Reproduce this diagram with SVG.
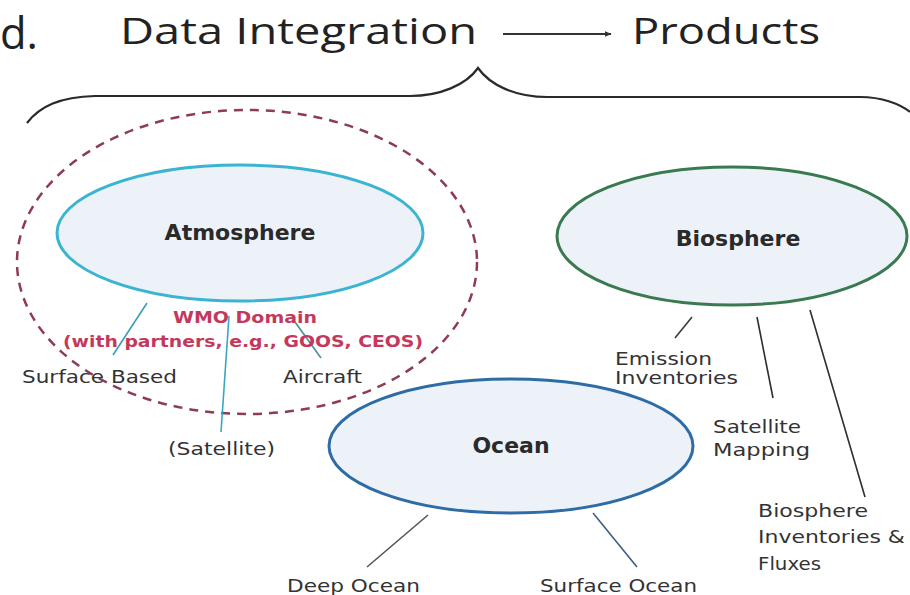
<svg xmlns="http://www.w3.org/2000/svg" width="910" height="595" viewBox="0 0 910 595">
  <style>
    .title { font-family: "Open Sans", "Liberation Sans", sans-serif; fill: #222; }
    .node { fill: #edf2f8; stroke-width: 3; }
    .nodetext { font-family: "DejaVu Sans", sans-serif; font-weight: bold; font-size: 22px; fill: #2a2a2a; text-anchor: middle; }
    .lbl { font-family: "DejaVu Sans", sans-serif; font-size: 17px; fill: #333; }
    .wmo { font-family: "DejaVu Sans", sans-serif; font-weight: bold; font-size: 15px; fill: #c4385c; }
    .conn { fill: none; stroke-width: 1.6; }
  </style>
  <defs>
    <marker id="arr" viewBox="0 0 10 10" refX="9" refY="5" markerWidth="7" markerHeight="7" orient="auto" markerUnits="userSpaceOnUse">
      <path d="M0,1 L10,5 L0,9 Z" fill="#333"/>
    </marker>
  </defs>
  <rect width="910" height="595" fill="#ffffff"/>

  <g id="title">
    <text class="title" x="0" y="49" font-size="44" textLength="38" lengthAdjust="spacingAndGlyphs">d.</text>
    <text class="title" x="120" y="44" font-size="36" textLength="357" lengthAdjust="spacingAndGlyphs">Data Integration</text>
    <line x1="503" y1="34" x2="611" y2="34" stroke="#333" stroke-width="2" marker-end="url(#arr)"/>
    <text class="title" x="632" y="44" font-size="36" textLength="188" lengthAdjust="spacingAndGlyphs">Products</text>
  </g>

  <g id="brace">
    <path d="M 27 123 C 40 106, 60 97, 95 96 L 410 96 C 440 96, 466 85, 478 68 C 490 85, 515 97, 547 97 L 860 97 C 882 97, 900 104, 910 112" fill="none" stroke="#2a2a2a" stroke-width="2.2"/>
  </g>

  <g id="wmo-domain">
    <ellipse cx="247" cy="262" rx="230" ry="152" fill="none" stroke="#8e3c54" stroke-width="2.5" stroke-dasharray="9 7"/>
  </g>

  <g id="connectors">
    <line class="conn" x1="147" y1="303" x2="113" y2="355" stroke="#3d9db3"/>
    <line class="conn" x1="229" y1="316" x2="221" y2="432" stroke="#3aa7c2" stroke-width="2"/>
    <line class="conn" x1="295" y1="322" x2="321" y2="358" stroke="#4d8e9c"/>
    <line class="conn" x1="692" y1="317" x2="675" y2="338" stroke="#3a3a3a"/>
    <line class="conn" x1="757" y1="317" x2="773" y2="398" stroke="#2e2e2e" stroke-width="2"/>
    <line class="conn" x1="810" y1="310" x2="865" y2="497" stroke="#2e2e2e"/>
    <line class="conn" x1="428" y1="515" x2="367" y2="567" stroke="#555"/>
    <line class="conn" x1="593" y1="513" x2="637" y2="567" stroke="#3b5f86"/>
  </g>

  <g id="atmosphere">
    <ellipse class="node" cx="240" cy="233" rx="183" ry="68" stroke="#3ab4d2"/>
    <text class="nodetext" x="240" y="240">Atmosphere</text>
  </g>

  <g id="biosphere">
    <ellipse class="node" cx="732" cy="236" rx="175" ry="69" stroke="#3a7a50"/>
    <text class="nodetext" x="738" y="246">Biosphere</text>
  </g>

  <g id="ocean">
    <ellipse class="node" cx="511" cy="446" rx="182" ry="67" stroke="#2e6ca6"/>
    <text class="nodetext" x="511" y="453">Ocean</text>
  </g>

  <g id="wmo-label">
    <text class="wmo" x="173" y="323" textLength="144" lengthAdjust="spacingAndGlyphs">WMO Domain</text>
    <text class="wmo" x="63" y="347" textLength="360" lengthAdjust="spacingAndGlyphs">(with partners, e.g., GOOS, CEOS)</text>
  </g>

  <g id="surface-based"><text class="lbl" x="22" y="383" textLength="155" lengthAdjust="spacingAndGlyphs">Surface Based</text></g>
  <g id="aircraft"><text class="lbl" x="283" y="383" textLength="79" lengthAdjust="spacingAndGlyphs">Aircraft</text></g>
  <g id="satellite"><text class="lbl" x="168" y="455" textLength="107" lengthAdjust="spacingAndGlyphs">(Satellite)</text></g>

  <g id="emission-inventories">
    <text class="lbl" x="615" y="365" textLength="97" lengthAdjust="spacingAndGlyphs">Emission</text>
    <text class="lbl" x="615" y="384" textLength="123" lengthAdjust="spacingAndGlyphs">Inventories</text>
  </g>
  <g id="satellite-mapping">
    <text class="lbl" x="713" y="433" textLength="88" lengthAdjust="spacingAndGlyphs">Satellite</text>
    <text class="lbl" x="713" y="456" textLength="97" lengthAdjust="spacingAndGlyphs">Mapping</text>
  </g>
  <g id="biosphere-inventories">
    <text class="lbl" x="758" y="517" textLength="110" lengthAdjust="spacingAndGlyphs">Biosphere</text>
    <text class="lbl" x="758" y="543" textLength="147" lengthAdjust="spacingAndGlyphs">Inventories &amp;</text>
    <text class="lbl" x="758" y="570" textLength="63" lengthAdjust="spacingAndGlyphs">Fluxes</text>
  </g>
  <g id="deep-ocean"><text class="lbl" x="287" y="592" textLength="133" lengthAdjust="spacingAndGlyphs">Deep Ocean</text></g>
  <g id="surface-ocean"><text class="lbl" x="540" y="592" textLength="157" lengthAdjust="spacingAndGlyphs">Surface Ocean</text></g>
</svg>
